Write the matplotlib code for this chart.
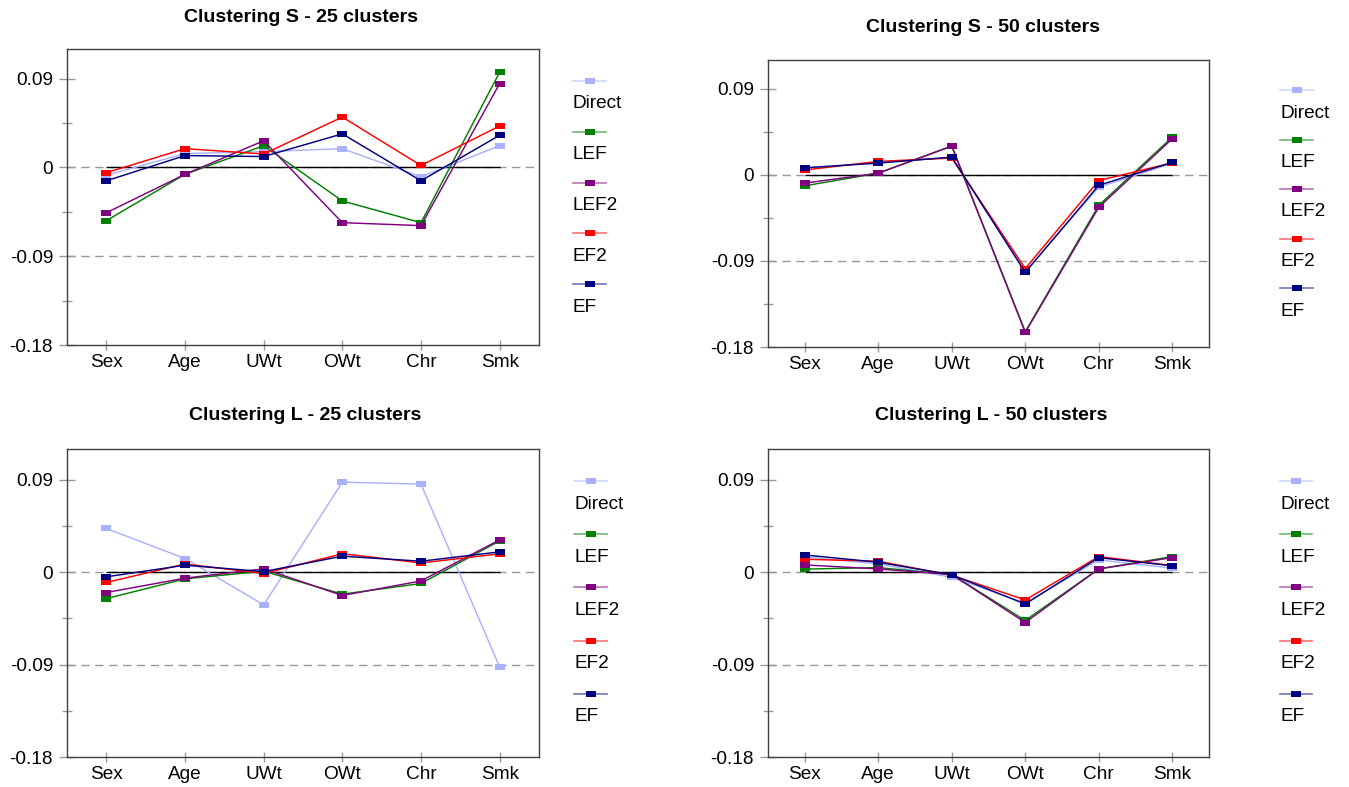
#!/usr/bin/env python3

'''
Four panels of effect estimates per covariate for the S and L clusterings
(25 and 50 clusters), each method drawn as a line with square markers.
'''

import matplotlib
matplotlib.use('Agg')
import matplotlib.pyplot as plt
from matplotlib.lines import Line2D

plt.rcParams['font.family'] = ['Liberation Sans', 'DejaVu Sans']

CATEGORIES = ['Sex', 'Age', 'UWt', 'OWt', 'Chr', 'Smk']
METHODS = ['Direct', 'LEF', 'LEF2', 'EF2', 'EF']
COLOURS = ['#aab2ff', '#008000', '#800080', '#ff0000', '#000080']
TITLES = ['Clustering S - 25 clusters', 'Clustering S - 50 clusters',
          'Clustering L - 25 clusters', 'Clustering L - 50 clusters']
YTICKS = [0.09, 0, -0.09, -0.18]
YTICK_LABELS = ['0.09', '0', '-0.09', '-0.18']
YMINOR = [0.045, -0.045, -0.135]

# Clustering S, 25 clusters
S25_DIRECT = [-0.008, 0.014, 0.016, 0.019, -0.0095, 0.022]
S25_LEF = [-0.054, -0.007, 0.022, -0.034, -0.056, 0.0965]
S25_LEF2 = [-0.046, -0.007, 0.027, -0.056, -0.059, 0.085]
S25_EF2 = [-0.0054, 0.019, 0.0136, 0.051, 0.002, 0.042]
S25_EF = [-0.0136, 0.012, 0.011, 0.034, -0.0136, 0.0326]

# Clustering S, 50 clusters
S50_DIRECT = [0.007, 0.013, 0.018, -0.101, -0.013, 0.012]
S50_LEF = [-0.0115, 0.0017, 0.030, -0.164, -0.032, 0.0394]
S50_LEF2 = [-0.0087, 0.0017, 0.030, -0.1647, -0.034, 0.0377]
S50_EF2 = [0.005, 0.014, 0.0175, -0.098, -0.006, 0.0125]
S50_EF = [0.0073, 0.0122, 0.0185, -0.102, -0.011, 0.013]

# Clustering L, 25 clusters
L25_DIRECT = [0.0426, 0.0133, -0.0318, 0.0877, 0.0858, -0.0923]
L25_LEF = [-0.0257, -0.0065, 0.001, -0.0214, -0.011, 0.0305]
L25_LEF2 = [-0.0198, -0.0058, 0.0033, -0.0227, -0.0085, 0.0315]
L25_EF2 = [-0.010, 0.008, -0.0013, 0.018, 0.009, 0.0179]
L25_EF = [-0.0045, 0.0068, 0.0006, 0.0156, 0.0107, 0.0198]

# Clustering L, 50 clusters
L50_DIRECT = [0.015, 0.008, -0.005, -0.030, 0.012, 0.0039]
L50_LEF = [0.003, 0.0045, -0.0023, -0.047, 0.0032, 0.0152]
L50_LEF2 = [0.0071, 0.0032, -0.0023, -0.049, 0.0032, 0.0142]
L50_EF2 = [0.0126, 0.0107, -0.003, -0.027, 0.0152, 0.0065]
L50_EF = [0.0168, 0.0097, -0.0026, -0.031, 0.0142, 0.0062]

PANELS = [
    [S25_DIRECT, S25_LEF, S25_LEF2, S25_EF2, S25_EF],
    [S50_DIRECT, S50_LEF, S50_LEF2, S50_EF2, S50_EF],
    [L25_DIRECT, L25_LEF, L25_LEF2, L25_EF2, L25_EF],
    [L50_DIRECT, L50_LEF, L50_LEF2, L50_EF2, L50_EF],
]

W, H = 1349, 787
# axes boxes in pixels: left, top, right, bottom
BOXES = [(67, 49, 539, 345), (768, 60, 1209, 347),
         (67, 449, 539, 757), (768, 449, 1209, 757)]
TITLE_POS = [(301, 18), (983, 28), (305, 415), (991, 415)]
# legend: line x start, x end, first line y, spacing
LEGEND_POS = [(573, 606, 81, 50.8), (1280, 1313, 90, 49.5),
              (574, 607, 481, 53.2), (1280, 1312, 481, 53.2)]

RECT = [(-1, -0.7), (1, -0.7), (1, 0.7), (-1, 0.7)]

fig = plt.figure(figsize=(W / 100, H / 100), dpi=100)


def fx(x):
    return x / W


def fy(y):
    return 1 - y / H


def draw_legend(x0, x1, y0, step):
    for i, (name, col) in enumerate(zip(METHODS, COLOURS)):
        y = y0 + i * step
        fig.add_artist(Line2D([fx(x0), fx(x1)], [fy(y), fy(y)],
                              transform=fig.transFigure, color=col,
                              alpha=0.55, lw=1.2))
        fig.add_artist(Line2D([fx((x0 + x1) / 2)], [fy(y)],
                              transform=fig.transFigure, color=col,
                              marker=RECT, markersize=6.7, mew=0, lw=0))
        fig.text(fx(x0), fy(y + 23), name, fontsize=13.7,
                 ha='left', va='center')


xs = list(range(len(CATEGORIES)))
for k, series_set in enumerate(PANELS):
    l, t, r, b = BOXES[k]
    ax = fig.add_axes([fx(l), fy(b), fx(r - l), (b - t) / H])

    ax.axhline(0, color='#999999', lw=1, ls=(0, (6, 4)), zorder=1)
    ax.axhline(-0.09, color='#999999', lw=1, ls=(0, (6, 4)), zorder=1)
    ax.hlines(0, xs[0], xs[-1], color='black', lw=1, zorder=2)

    for vals, col in zip(series_set, COLOURS):
        ax.plot(xs, vals, color=col, lw=1.05, marker=RECT, markersize=6.7,
                mew=0, zorder=3)

    ax.set_xlim(-0.5, len(CATEGORIES) - 0.5)
    ax.set_ylim(-0.18, 0.12)
    ax.set_xticks(xs)
    ax.set_xticklabels(CATEGORIES)
    ax.set_yticks(YTICKS)
    ax.set_yticklabels(YTICK_LABELS)
    ax.set_yticks(YMINOR, minor=True)

    ax.tick_params(axis='y', which='major', direction='inout', length=11.5,
                   width=1, color='#999999', pad=4.3, labelsize=13.7)
    ax.tick_params(axis='y', which='minor', direction='inout', length=7,
                   width=1, color='#999999')
    ax.tick_params(axis='x', direction='inout', length=6.5, width=1,
                   color='#999999', pad=3.2, labelsize=13.7)
    for sp in ax.spines.values():
        sp.set_color('#404040')
        sp.set_linewidth(1)

    tx, ty = TITLE_POS[k]
    fig.text(fx(tx), fy(ty), TITLES[k], fontsize=14, fontweight='bold',
             ha='center', va='center')
    draw_legend(*LEGEND_POS[k])

fig.savefig('out.png', dpi=100)
